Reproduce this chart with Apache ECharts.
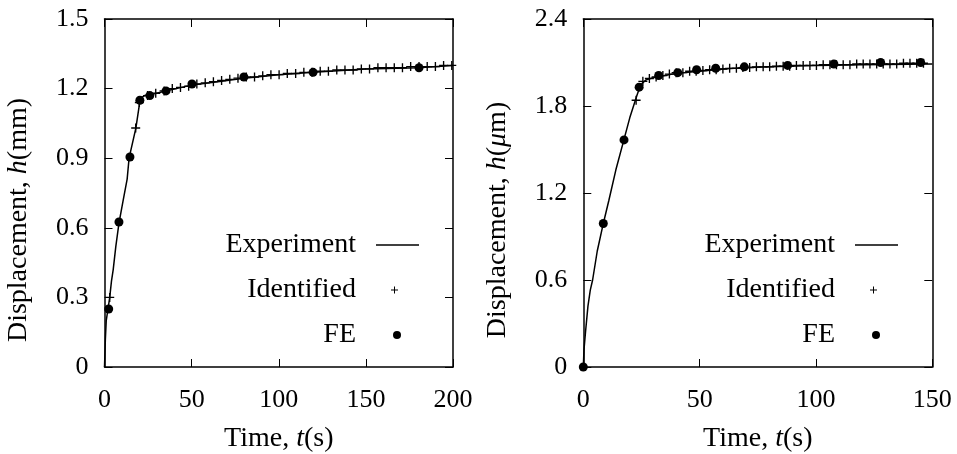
<!DOCTYPE html>
<html>
<head>
<meta charset="utf-8">
<script src="https://cdn.jsdelivr.net/npm/echarts@6/dist/echarts.min.js"></script>
<style>
  html, body { margin: 0; padding: 0; background: #fff; }
  #chart { width: 957px; height: 454px; }
</style>
</head>
<body>
<div id="chart"></div>
<script>
// left panel: displacement h(mm) vs time t(s)
const expLeft = [[0,0],[0.5,0.12],[1,0.2],[2,0.25],[3,0.3],[4,0.37],[5,0.42],[6.5,0.52],[8.3,0.62],[11,0.73],[13,0.81],[14.1,0.9],[18,1.03],[20,1.13],[21,1.16],[23,1.17],[27,1.175],[35,1.19],[50,1.215],[65,1.23],[80,1.245],[100,1.26],[120,1.27],[150,1.285],[180,1.29],[200,1.3]];
const idLeftT = [3.0,17.9,20.0,24.7,29.4,34.2,38.9,43.6,48.3,53.0,57.8,62.5,67.2,71.9,76.6,81.4,86.1,90.8,95.5,100.2,104.9,109.7,114.4,119.1,123.8,128.5,133.3,138.0,142.7,147.4,152.1,156.9,161.6,166.3,171.0,175.7,180.5,185.2,189.9,194.6,199.3];
const idLeftH = [0.30,1.03,1.14,1.17,1.18,1.19,1.20,1.205,1.21,1.22,1.225,1.23,1.235,1.24,1.245,1.25,1.25,1.255,1.26,1.26,1.265,1.265,1.27,1.27,1.275,1.275,1.28,1.28,1.28,1.285,1.285,1.29,1.29,1.29,1.29,1.295,1.295,1.295,1.295,1.30,1.30];
const feLeftT = [2.4,8.3,14.6,20.3,26,35.3,50.2,80,119.7,180.5];
const feLeftH = [0.25,0.625,0.905,1.15,1.17,1.19,1.22,1.25,1.27,1.29];

// right panel: displacement h(um) vs time t(s)
const expRight = [[0,0],[0.3,0.12],[1,0.25],[2,0.42],[3,0.53],[4,0.6],[6,0.8],[8.6,0.99],[11,1.15],[14,1.36],[17.5,1.57],[20,1.72],[23,1.87],[24.5,1.94],[25.5,1.96],[27,1.98],[30,1.995],[35,2.01],[40,2.025],[50,2.04],[60,2.055],[70,2.065],[80,2.07],[100,2.08],[120,2.085],[150,2.09]];
const idRightT = [22.7,25.6,28.4,31.3,34.2,37.0,39.9,42.8,45.7,48.5,51.4,54.3,57.1,60.0,62.9,65.8,68.6,71.5,74.4,77.3,80.1,83.0,85.9,88.7,91.6,94.5,97.4,100.2,103.1,106.0,108.8,111.7,114.6,117.5,120.3,123.2,126.1,128.9,131.8,134.7,137.6,140.4,143.3,146.2];
const idRightH = [1.84,1.97,1.99,2.00,2.01,2.02,2.03,2.03,2.04,2.04,2.045,2.05,2.05,2.055,2.06,2.06,2.065,2.065,2.07,2.07,2.07,2.075,2.075,2.075,2.08,2.08,2.08,2.08,2.085,2.085,2.085,2.085,2.085,2.09,2.09,2.09,2.09,2.09,2.09,2.09,2.095,2.095,2.095,2.095];
const feRightT = [0,8.6,17.5,24,32.4,40.6,48.7,56.9,69.2,87.8,107.7,127.8,145];
const feRightH = [0,0.99,1.566,1.93,2.01,2.03,2.05,2.06,2.07,2.08,2.09,2.10,2.10];

const seriesNames = ["Experiment", "Identified", "FE"];

const FONT = "Liberation Serif";
const FS = 26;   // tick labels
const FT = 28;   // titles, legend
const PLUS = "path://M3.4,0H4.6V3.4H8V4.6H4.6V8H3.4V4.6H0V3.4H3.4Z";
const LINEICON = "path://M0,0M72,0M15,-0.75H58V0.75H15Z";
const PLUSICON = "path://M0,0M72,0M33,-3.5H34V-0.5H37V0.5H34V3.5H33V0.5H30V-0.5H33Z";

function zip(a, b) {
  return a.map((v, i) => [v, b[i]]);
}

function titleStyle(extra) {
  return Object.assign({
    color: "#000", fontFamily: FONT, fontSize: FT,
    rich: { i: { fontStyle: "italic", fontFamily: FONT, fontSize: FT, color: "#000" } }
  }, extra || {});
}

function xAxes(gi, max) {
  let base = {
    gridIndex: gi, type: "value", min: 0, max: max, interval: 50,
    axisLine: { show: true, onZero: false, lineStyle: { color: "#000", width: 1.5 } },
    axisTick: { show: true, inside: true, length: 8, lineStyle: { color: "#000", width: 1 } },
    splitLine: { show: false }
  };
  return [
    Object.assign({}, base, {
      position: "bottom",
      axisLabel: { margin: 20, color: "#000", fontFamily: FONT, fontSize: FS },
      name: "Time, {i|t}(s)",
      nameLocation: "middle",
      nameGap: 58,
      nameTextStyle: titleStyle()
    }),
    Object.assign({}, base, { position: "top", axisLabel: { show: false } })
  ];
}

function yAxes(gi, max, interval, name) {
  let base = {
    gridIndex: gi, type: "value", min: 0, max: max, interval: interval,
    axisLine: { show: true, onZero: false, lineStyle: { color: "#000", width: 1.5 } },
    axisTick: { show: true, inside: true, length: 8, lineStyle: { color: "#000", width: 1 } },
    splitLine: { show: false }
  };
  return [
    Object.assign({}, base, {
      position: "left",
      axisLabel: { margin: 16, color: "#000", fontFamily: FONT, fontSize: FS },
      name: name,
      nameLocation: "middle",
      nameGap: 72,
      // extra end padding pushes the rotated title down a little
      nameTextStyle: titleStyle({ padding: [0, 54, 0, 0] })
    }),
    Object.assign({}, base, { position: "right", axisLabel: { show: false } })
  ];
}

function panelSeries(xi, yi, exp, idT, idH, feT, feH) {
  return [
    {
      name: seriesNames[0], type: "line", xAxisIndex: xi, yAxisIndex: yi,
      data: exp, showSymbol: false, smooth: false, silent: true,
      lineStyle: { color: "#000", width: 1.5 }, itemStyle: { color: "#000", borderWidth: 0 }, z: 2
    },
    {
      name: seriesNames[1], type: "scatter", xAxisIndex: xi, yAxisIndex: yi,
      data: zip(idT, idH), symbol: PLUS, symbolSize: 9, clip: false,
      itemStyle: { color: "#000", opacity: 1 }, z: 3
    },
    {
      name: seriesNames[2], type: "scatter", xAxisIndex: xi, yAxisIndex: yi,
      data: zip(feT, feH), symbol: "circle", symbolSize: 9, clip: false,
      itemStyle: { color: "#000", opacity: 1 }, z: 4
    }
  ];
}

function legend(right) {
  return {
    orient: "vertical", align: "right", right: right, top: 231, padding: 0,
    itemWidth: 72, itemHeight: 8, itemGap: 17,
    selectedMode: false,
    itemStyle: { borderWidth: 0, opacity: 1 },
    textStyle: { color: "#000", fontFamily: FONT, fontSize: FT },
    data: [
      { name: seriesNames[0], icon: LINEICON },
      { name: seriesNames[1], icon: PLUSICON },
      { name: seriesNames[2], icon: "circle" }
    ]
  };
}

let myChart = echarts.init(document.getElementById("chart"), null, { renderer: "canvas" }),
  option;
option = {
  backgroundColor: "#fff",
  animation: false,
  grid: [
    { left: 104.5, top: 19, width: 348.5, height: 348, outerBoundsMode: "none" },
    { left: 583.3, top: 19, width: 349, height: 348, outerBoundsMode: "none" }
  ],
  legend: [legend(524), legend(45)],
  xAxis: xAxes(0, 200).concat(xAxes(1, 150)),
  yAxis: yAxes(0, 1.5, 0.3, "Displacement, {i|h}(mm)").concat(
    yAxes(1, 2.4, 0.6, "Displacement, {i|h}({i|\u03bc}m)")
  ),
  series: panelSeries(0, 0, expLeft, idLeftT, idLeftH, feLeftT, feLeftH).concat(
    panelSeries(2, 2, expRight, idRightT, idRightH, feRightT, feRightH)
  )
};
if (option && typeof option === "object") myChart.setOption(option);
</script>
</body>
</html>
